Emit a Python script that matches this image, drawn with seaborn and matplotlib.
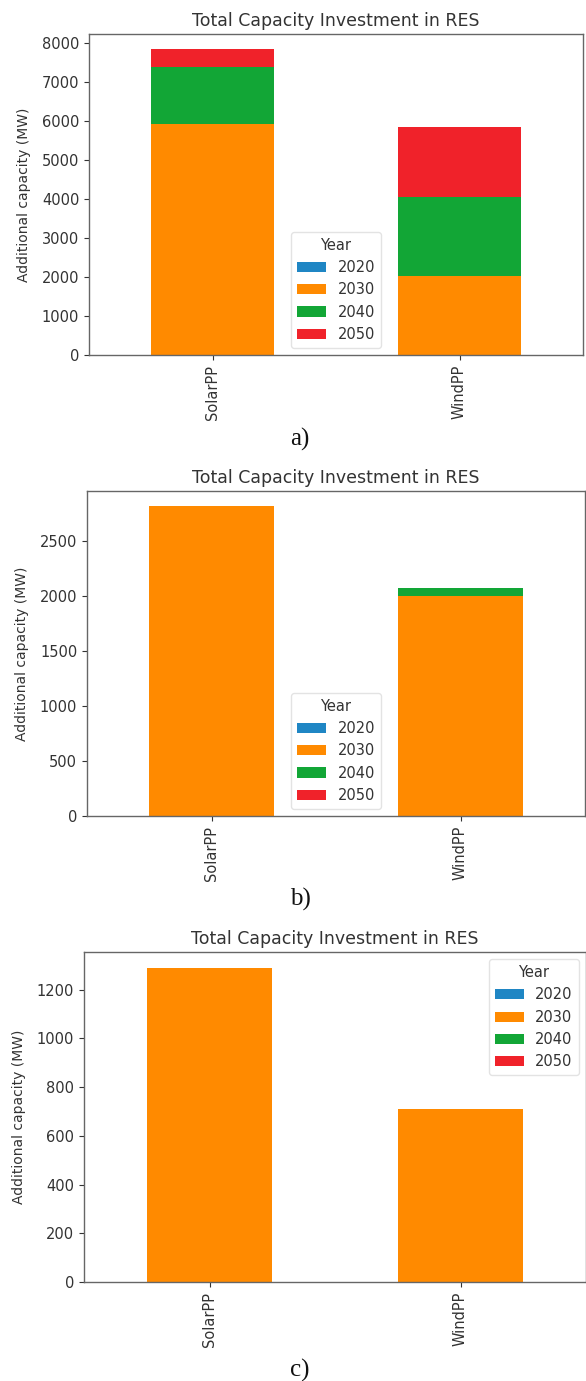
import numpy as np
import pandas as pd
import matplotlib
matplotlib.use("Agg")
import matplotlib.pyplot as plt
from matplotlib.patches import Patch
import seaborn as sns

# ---- data ----
plants = ["SolarPP", "WindPP"]
years = ["2020", "2030", "2040", "2050"]

# panel a
a_solar = [0, 5920, 1450, 460]
a_wind = [0, 2020, 2020, 1810]
# panel b
b_solar = [0, 2810, 0, 0]
b_wind = [0, 2000, 70, 0]
# panel c
c_solar = [0, 1290, 0, 0]
c_wind = [0, 710, 0, 0]

title = "Total Capacity Investment in RES"
ylabel = "Additional capacity (MW)"
captions = ["a)", "b)", "c)"]
legend_title = "Year"

year_colors = ["#1f86c4", "#ff8a00", "#12a636", "#f0222a"]

sns.set_style("white")
plt.rcParams["font.family"] = ["DejaVu Sans"]
TXT = "#333333"
plt.rcParams["text.color"] = TXT
plt.rcParams["axes.labelcolor"] = TXT
plt.rcParams["xtick.color"] = TXT
plt.rcParams["ytick.color"] = TXT

W, H = 586, 1381
fig = plt.figure(figsize=(W / 100, H / 100), dpi=100)
fig.patch.set_facecolor("white")


def ax_rect(left, right, top, bottom):
    return [left / W, 1 - bottom / H, (right - left) / W, (bottom - top) / H]


panels = [
    (a_solar, a_wind, ax_rect(89, 583, 34, 355), "lower center", 439),
    (b_solar, b_wind, ax_rect(87, 585, 491, 816), "lower center", 899),
    (c_solar, c_wind, ax_rect(84, 586, 952, 1282), "upper right", 1370),
]

for (solar, wind, rect, loc, cap_y), cap in zip(panels, captions):
    ax = fig.add_axes(rect)
    rows = []
    for plant, vals in zip(plants, [solar, wind]):
        cum = np.cumsum(vals)
        for yr, v, c in zip(years, vals, cum):
            rows.append({"plant": plant, "year": yr, "value": v, "cum": c})
    df = pd.DataFrame(rows)
    # draw cumulative tops, largest first, so stacks appear
    for yr, col in reversed(list(zip(years, year_colors))):
        sub = df[df["year"] == yr]
        sns.barplot(data=sub, x="plant", y="cum", order=plants, color=col,
                    saturation=1, width=0.5, errorbar=None, ax=ax,
                    linewidth=0)
    ax.set_xlim(-0.5, 1.5)
    ax.set_ylim(0, df.groupby("plant")["value"].sum().max() * 1.05)
    ax.set_xlabel("")
    ax.set_ylabel(ylabel, fontsize=10, labelpad=8)
    ax.set_title(title, fontsize=12.5, pad=6)
    ax.tick_params(axis="x", labelrotation=90, labelsize=10.5, length=3.5,
                   width=0.8, bottom=True)
    ax.tick_params(axis="y", labelsize=10.5, length=3.5, width=0.8, left=True)
    for s in ax.spines.values():
        s.set_color("#666666")
        s.set_linewidth(1.0)
    handles = [Patch(facecolor=c, edgecolor="none") for c in year_colors]
    leg = ax.legend(handles, years, title=legend_title, loc=loc,
                    fontsize=10.5, title_fontsize=10.5, frameon=True)
    leg.get_frame().set_edgecolor("#dddddd")
    fig.text(300 / W, 1 - cap_y / H, cap, ha="center", va="center",
             fontsize=18, family="Liberation Serif", color="#111111")

fig.savefig("out.png", dpi=100, facecolor="white")
